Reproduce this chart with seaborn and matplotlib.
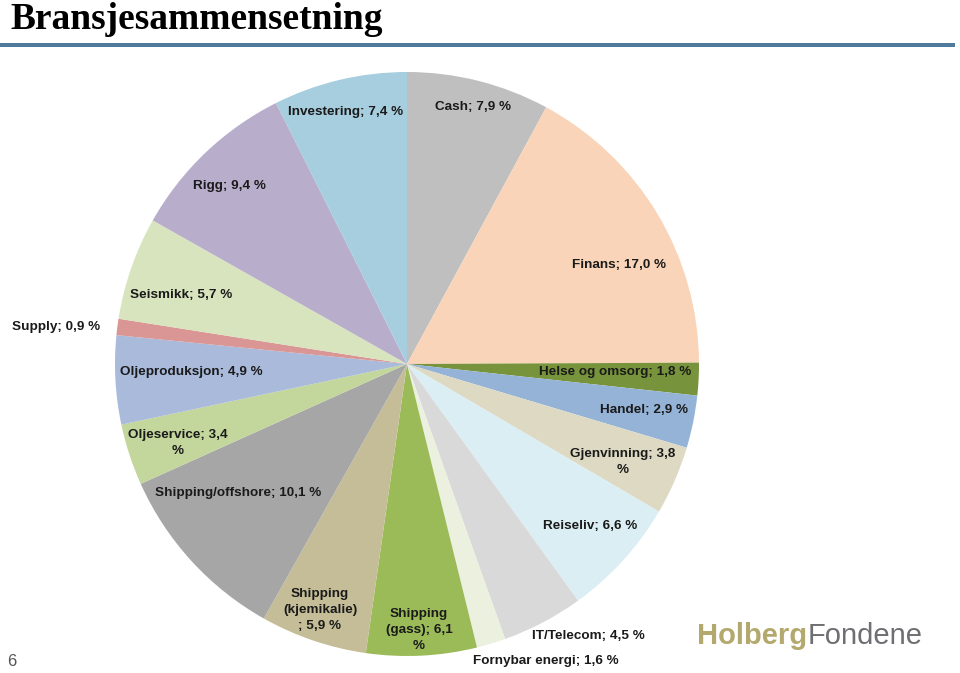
import matplotlib
matplotlib.use("Agg")
import matplotlib.pyplot as plt
import seaborn as sns

sns.set_theme(style="white")
plt.rcParams['font.family'] = ['Liberation Sans', 'DejaVu Sans']

categories = ["Cash", "Finans", "Helse og omsorg", "Handel", "Gjenvinning", "Reiseliv",
              "IT/Telecom", "Fornybar energi", "Shipping (gass)", "Shipping (kjemikalie)",
              "Shipping/offshore", "Oljeservice", "Oljeproduksjon", "Supply", "Seismikk",
              "Rigg", "Investering"]
values = [7.9, 17.0, 1.8, 2.9, 3.8, 6.6, 4.5, 1.6, 6.1, 5.9, 10.1, 3.4, 4.9, 0.9, 5.7, 9.4, 7.4]
label_texts = ["Cash; 7,9 %", "Finans; 17,0 %", "Helse og omsorg; 1,8 %", "Handel; 2,9 %",
               "Gjenvinning; 3,8\n%", "Reiseliv; 6,6 %", "IT/Telecom; 4,5 %",
               "Fornybar energi; 1,6 %", "Shipping\n(gass); 6,1\n%",
               "Shipping\n(kjemikalie)\n; 5,9 %", "Shipping/offshore; 10,1 %",
               "Oljeservice; 3,4\n%", "Oljeproduksjon; 4,9 %", "Supply; 0,9 %",
               "Seismikk; 5,7 %", "Rigg; 9,4 %", "Investering; 7,4 %"]
colors = ["#BFBFBF", "#FAD4B8", "#77933C", "#95B3D7", "#DDD9C3", "#DBEEF4",
          "#D9D9D9", "#EBF1DE", "#9BBB59", "#C4BD97", "#A6A6A6", "#C3D69B",
          "#A9BADB", "#DA9694", "#D7E4BD", "#B9ADCC", "#A6CEDF"]
# label anchor positions in pixels (x, y from top)
label_pos = [(473, 107), (619, 265), (615, 372), (644, 410), (623, 462), (590, 526),
             (588, 636), (546, 661), (419, 630), (320, 610), (238, 493), (178, 443),
             (191, 372), (56, 327), (181, 295), (229, 186), (346, 112)]

W, H = 960, 673
fig = plt.figure(figsize=(9.6, 6.73), dpi=100)
fig.patch.set_facecolor("white")

cx, cy, r = 407, 364, 292
ax = fig.add_axes([(cx - r) / W, (H - cy - r) / H, 2 * r / W, 2 * r / H])
ax.pie(values, colors=colors, startangle=90, counterclock=False, radius=1,
       wedgeprops=dict(linewidth=0))
ax.set_xlim(-1, 1)
ax.set_ylim(-1, 1)
ax.set_aspect("equal")
ax.axis("off")

for txt, (px, py) in zip(label_texts, label_pos):
    fig.text(px / W, 1 - py / H, txt, ha="center", va="center", fontsize=9.7,
             fontweight="bold", color="#1a1a1a", linespacing=1.4)

# Title
fig.text(10 / W, 1 - 29 / H, "Bransjesammensetning", ha="left", va="baseline",
         fontsize=27, fontweight="bold", family=["Liberation Serif", "DejaVu Serif"],
         color="black")
fig.patches.append(matplotlib.patches.Rectangle((0, 1 - 47 / H), 955 / W, 4 / H,
                                                transform=fig.transFigure,
                                                facecolor="#4F7A9B", edgecolor="none"))

# page number
fig.text(7 / W, 1 - 662 / H, "6", ha="left", va="center", fontsize=12, color="#555555")

# logo
t1 = fig.text(697 / W, 1 - 636 / H, "Holberg", ha="left", va="center", fontsize=21,
              fontweight="bold", color="#B3A86E")
fig.add_artist(matplotlib.text.Annotation("Fondene", xy=(1, 0), xycoords=t1,
                                          ha="left", va="bottom", fontsize=21,
                                          color="#6E6F72"))

fig.savefig("out.png", dpi=100, facecolor="white")
